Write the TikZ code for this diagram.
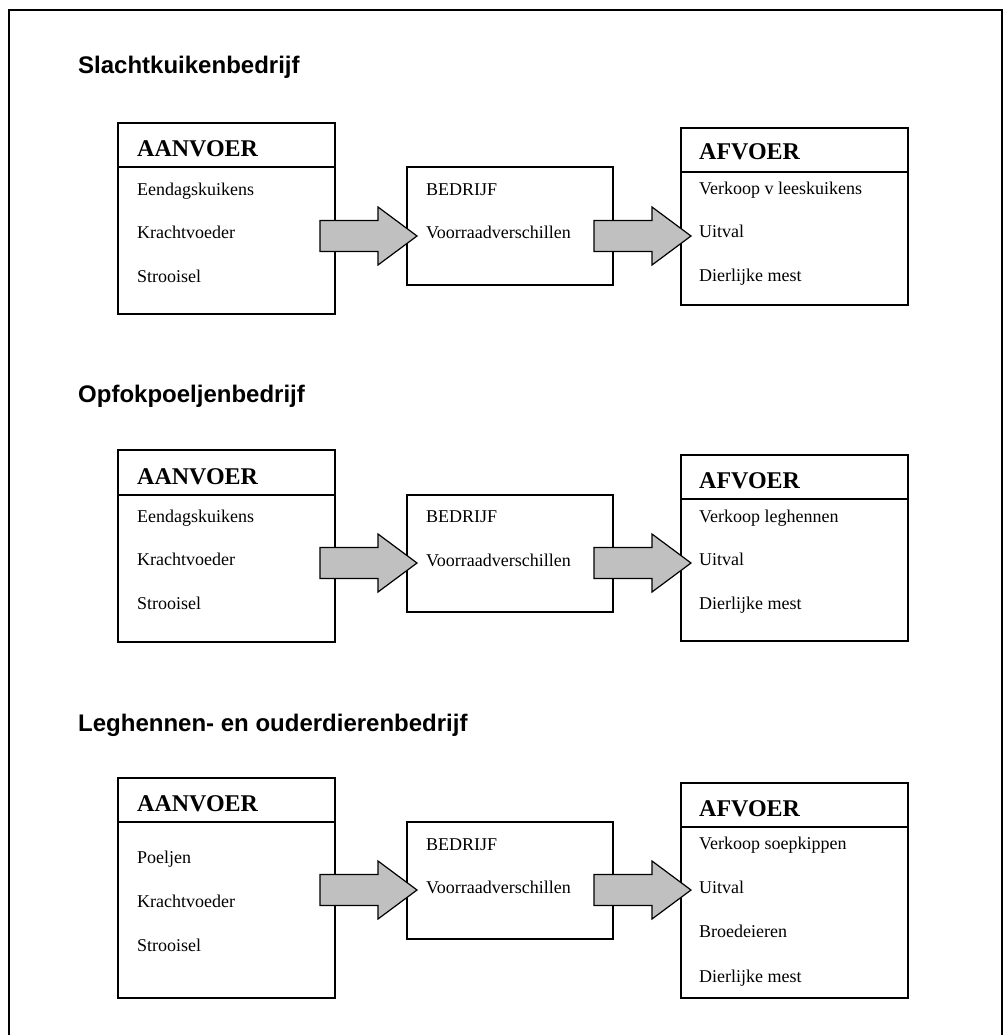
\documentclass[tikz,border=0pt]{standalone}
\usepackage{fontspec}
\setmainfont{Liberation Serif}
\newfontfamily\headsans{Liberation Sans}
\definecolor{arrowfill}{HTML}{C0C0C0}

\tikzset{
  frame/.style={draw, line width=1.6pt},
  panel/.style={draw, line width=1.6pt, anchor=north west, inner sep=0pt, outer sep=0pt},
  rule/.style={line width=1.6pt},
  sectiontitle/.style={anchor=base west, inner sep=0pt, font=\headsans\bfseries\fontsize{24}{28}\selectfont},
  panelhead/.style={anchor=base west, inner sep=0pt, font=\bfseries\fontsize{24}{28}\selectfont},
  entry/.style={anchor=base west, inner sep=0pt, font=\fontsize{18}{22}\selectfont},
  flowarrow/.pic={
    \draw[line width=1.2pt, fill=arrowfill, line join=miter]
      (0,15.5) -- (58,15.5) -- (58,29) -- (97,0) -- (58,-29) -- (58,-15.5) -- (0,-15.5) -- cycle;
  }
}

\begin{document}
\begin{tikzpicture}[x=1pt, y=-1pt]
\useasboundingbox (0,0) rectangle (1004,1035);

% outer frame (open at the bottom of the page)
\draw[frame] (9,1040) -- (9,10) -- (1002,10) -- (1002,1040);

% ---------------- Slachtkuikenbedrijf ----------------
\node[sectiontitle] (t1) at (78,74) {Slachtkuikenbedrijf};

\node[panel, minimum width=217pt, minimum height=191pt] (in1) at (118,123) {};
\draw[rule] (in1.west |- 0,167) -- (in1.east |- 0,167);
\node[panelhead] (in1h) at (137,157) {AANVOER};
\node[entry] (in1a) at (137,195) {Eendagskuikens};
\node[entry] (in1b) at (137,238) {Krachtvoeder};
\node[entry] (in1c) at (137,282) {Strooisel};

\node[panel, minimum width=206pt, minimum height=118pt] (bd1) at (407,167) {};
\node[entry] (bd1a) at (426,195) {BEDRIJF};
\node[entry] (bd1b) at (426,238) {Voorraadverschillen};

\node[panel, minimum width=227pt, minimum height=177pt] (out1) at (681,128) {};
\draw[rule] (out1.west |- 0,172) -- (out1.east |- 0,172);
\node[panelhead] (out1h) at (699,160) {AFVOER};
\node[entry] (out1a) at (699,194) {Verkoop v leeskuikens};
\node[entry] (out1b) at (699,237) {Uitval};
\node[entry] (out1c) at (699,281) {Dierlijke mest};

\pic at (320,236) {flowarrow};
\pic at (594,236) {flowarrow};

% ---------------- Opfokpoeljenbedrijf ----------------
\node[sectiontitle] (t2) at (78,402) {Opfokpoeljenbedrijf};

\node[panel, minimum width=217pt, minimum height=192pt] (in2) at (118,450) {};
\draw[rule] (in2.west |- 0,495) -- (in2.east |- 0,495);
\node[panelhead] (in2h) at (137,484) {AANVOER};
\node[entry] (in2a) at (137,522) {Eendagskuikens};
\node[entry] (in2b) at (137,565) {Krachtvoeder};
\node[entry] (in2c) at (137,609) {Strooisel};

\node[panel, minimum width=206pt, minimum height=117pt] (bd2) at (407,495) {};
\node[entry] (bd2a) at (426,522) {BEDRIJF};
\node[entry] (bd2b) at (426,566) {Voorraadverschillen};

\node[panel, minimum width=227pt, minimum height=186pt] (out2) at (681,455) {};
\draw[rule] (out2.west |- 0,499) -- (out2.east |- 0,499);
\node[panelhead] (out2h) at (699,488) {AFVOER};
\node[entry] (out2a) at (699,522) {Verkoop leghennen};
\node[entry] (out2b) at (699,565) {Uitval};
\node[entry] (out2c) at (699,609) {Dierlijke mest};

\pic at (320,563) {flowarrow};
\pic at (594,563) {flowarrow};

% ---------------- Leghennen- en ouderdierenbedrijf ----------------
\node[sectiontitle] (t3) at (78,731) {Leghennen- en ouderdierenbedrijf};

\node[panel, minimum width=217pt, minimum height=220pt] (in3) at (118,778) {};
\draw[rule] (in3.west |- 0,822) -- (in3.east |- 0,822);
\node[panelhead] (in3h) at (137,811) {AANVOER};
\node[entry] (in3a) at (137,863) {Poeljen};
\node[entry] (in3b) at (137,907) {Krachtvoeder};
\node[entry] (in3c) at (137,951) {Strooisel};

\node[panel, minimum width=206pt, minimum height=117pt] (bd3) at (407,822) {};
\node[entry] (bd3a) at (426,850) {BEDRIJF};
\node[entry] (bd3b) at (426,893) {Voorraadverschillen};

\node[panel, minimum width=227pt, minimum height=215pt] (out3) at (681,783) {};
\draw[rule] (out3.west |- 0,827) -- (out3.east |- 0,827);
\node[panelhead] (out3h) at (699,816) {AFVOER};
\node[entry] (out3a) at (699,849) {Verkoop soepkippen};
\node[entry] (out3b) at (699,893) {Uitval};
\node[entry] (out3c) at (699,937) {Broedeieren};
\node[entry] (out3d) at (699,982) {Dierlijke mest};

\pic at (320,890) {flowarrow};
\pic at (594,890) {flowarrow};
\end{tikzpicture}
\end{document}
